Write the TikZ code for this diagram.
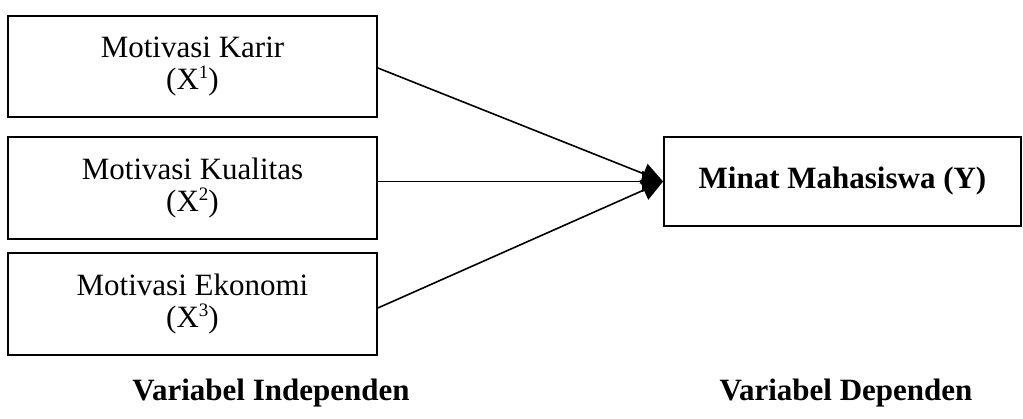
\documentclass[tikz,border=0pt]{standalone}
\usepackage{fontspec}
\setmainfont{Liberation Serif}
\usetikzlibrary{arrows.meta}
\newcommand{\supnum}[1]{\raisebox{0.75ex}{\fontsize{19}{19}\selectfont #1}}
\begin{document}
\begin{tikzpicture}[x=1pt,y=1pt,
  varbox/.style={draw, line width=1.8pt, inner sep=0pt, align=center,
    font=\fontsize{31}{32}\selectfont},
  conn/.style={line width=1.6pt, -{Triangle[length=21pt,width=21pt]}},
  lbl/.style={font=\bfseries\fontsize{31}{33}\selectfont}]
\useasboundingbox (0,0) rectangle (1023,419);
\node[varbox, minimum width=369pt, minimum height=101pt] (b1) at (192.5,352.5) {Motivasi Karir\\(X\supnum{1})};
\node[varbox, minimum width=369pt, minimum height=102pt] (b2) at (192.5,231) {Motivasi Kualitas\\(X\supnum{2})};
\node[varbox, minimum width=369pt, minimum height=102pt] (b3) at (192.5,115) {Motivasi Ekonomi\\(X\supnum{3})};
\node[varbox, minimum width=357pt, minimum height=89pt, font=\bfseries\fontsize{31}{33}\selectfont] (y) at (842.5,237.5) {Minat Mahasiswa (Y)};
\draw[conn] ([yshift=-1.5pt]b1.east) -- (y.west);
\draw[conn] (b2.east |- y.west) -- (y.west);
\draw[conn] ([yshift=-4pt]b3.east) -- (y.west);
\node[lbl] (li) at (271,26) {Variabel Independen};
\node[lbl] (ld) at (846,26) {Variabel Dependen};
\end{tikzpicture}
\end{document}
